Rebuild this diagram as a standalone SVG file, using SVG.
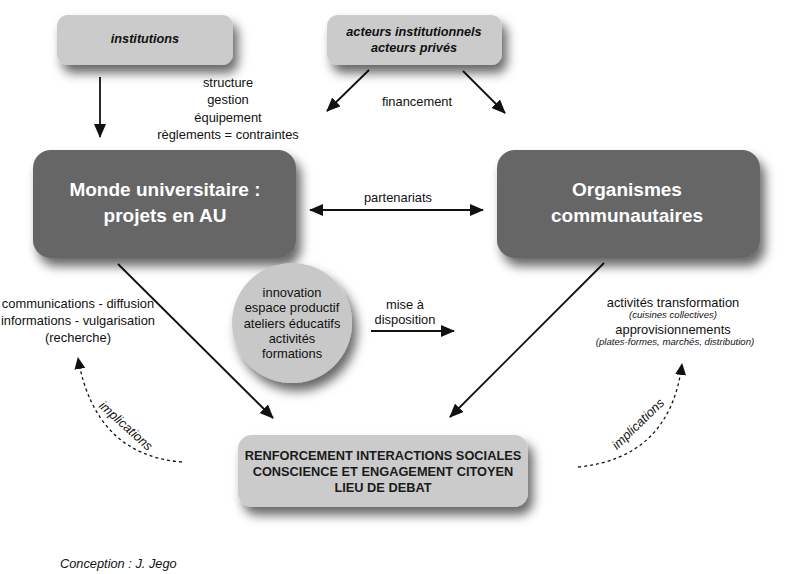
<svg xmlns="http://www.w3.org/2000/svg" width="800" height="574" viewBox="0 0 800 574">
<defs>
<filter id="sh" x="-20%" y="-20%" width="150%" height="160%">
<feDropShadow dx="5" dy="8" stdDeviation="5.5" flood-color="#000" flood-opacity="0.6"/>
</filter>
<marker id="ah" markerUnits="userSpaceOnUse" markerWidth="14" markerHeight="12" refX="13" refY="6" orient="auto-start-reverse">
<path d="M0,0 L14,6 L0,12 Z" fill="#111"/>
</marker>
<marker id="ahs" markerUnits="userSpaceOnUse" markerWidth="12" markerHeight="11" refX="11" refY="5.5" orient="auto">
<path d="M0,0 L12,5.5 L0,11 Z" fill="#111"/>
</marker>
</defs>
<style>
text{font-family:"Liberation Sans",Arial,sans-serif;fill:#111;text-anchor:middle}
.lt{fill:#cbcbcb}
.dk{fill:#666666}
.bw{font-weight:bold;fill:#fff;font-size:19px}
.bi{font-weight:bold;font-style:italic;font-size:12.7px}
.n{font-size:12.9px}
.sm{font-size:9.6px;font-style:italic}
.bb{font-weight:bold;font-size:12.8px;fill:#1a1a1a}
.ln{stroke:#111;stroke-width:1.8;fill:none;marker-end:url(#ah)}
.ds{stroke:#111;stroke-width:1.3;fill:none;stroke-dasharray:3 3;marker-end:url(#ahs)}
.it{font-style:italic;font-size:12.8px}
</style>
<rect width="800" height="574" fill="#fff"/>

<g id="connectors">
<line class="ln" x1="100" y1="77" x2="100" y2="137"/>
<line class="ln" x1="369" y1="70" x2="327" y2="111"/>
<line class="ln" x1="463" y1="71" x2="505" y2="113"/>
<line class="ln" x1="310" y1="210" x2="483" y2="210" style="marker-start:url(#ah)"/>
<line class="ln" x1="371" y1="331" x2="454" y2="331"/>
<line class="ln" x1="118" y1="264" x2="273" y2="418"/>
<line class="ln" x1="604" y1="263" x2="450" y2="417"/>
<path class="ds" d="M182,462 Q95,455 78,358"/>
<path class="ds" d="M578,467 Q670,458 682,364"/>
</g>

<g id="labels">
<text class="n" x="228" y="87">structure</text>
<text class="n" x="228" y="104">gestion</text>
<text class="n" x="228" y="122">équipement</text>
<text class="n" x="228" y="139">règlements = contraintes</text>
<text class="n" x="417" y="106">financement</text>
<text class="n" x="398" y="202">partenariats</text>
<text class="n" x="405" y="309">mise à</text>
<text class="n" x="405" y="324">disposition</text>
<text class="n" x="78" y="308">communications - diffusion</text>
<text class="n" x="78" y="325">informations - vulgarisation</text>
<text class="n" x="78" y="342">(recherche)</text>
<text class="n" x="673" y="307">activités transformation</text>
<text class="sm" x="673" y="318">(cuisines collectives)</text>
<text class="n" x="673" y="334">approvisionnements</text>
<text class="sm" x="675" y="345">(plates-formes, marchés, distribution)</text>
<text class="it" transform="translate(123,429) rotate(42)">implications</text>
<text class="it" transform="translate(641,427) rotate(-44)">implications</text>
<text class="it" x="60" y="568" style="text-anchor:start">Conception : J. Jego</text>
</g>

<g id="institutions">
<rect class="lt" x="57" y="15" width="176" height="50" rx="11" filter="url(#sh)"/>
<text class="bi" x="145" y="43">institutions</text>
</g>

<g id="acteurs">
<rect class="lt" x="327" y="15" width="175" height="50" rx="11" filter="url(#sh)"/>
<text class="bi" x="414" y="36">acteurs institutionnels</text>
<text class="bi" x="414" y="52">acteurs privés</text>
</g>

<g id="monde">
<rect class="dk" x="33" y="150" width="263" height="108" rx="18" filter="url(#sh)"/>
<text class="bw" x="165" y="196">Monde universitaire :</text>
<text class="bw" x="165" y="222">projets en AU</text>
</g>

<g id="organismes">
<rect class="dk" x="497" y="150" width="263" height="108" rx="18" filter="url(#sh)"/>
<text class="bw" x="627" y="196">Organismes</text>
<text class="bw" x="627" y="222">communautaires</text>
</g>

<g id="innovation">
<circle cx="292" cy="323" r="60" fill="#c8c8c8" filter="url(#sh)"/>
<text class="n" x="292" y="297">innovation</text>
<text class="n" x="292" y="312">espace productif</text>
<text class="n" x="292" y="328">ateliers éducatifs</text>
<text class="n" x="292" y="343">activités</text>
<text class="n" x="292" y="358">formations</text>
</g>

<g id="renforcement">
<rect class="lt" x="238" y="435" width="290" height="72" rx="14" filter="url(#sh)"/>
<text class="bb" x="383" y="460">RENFORCEMENT INTERACTIONS SOCIALES</text>
<text class="bb" x="383" y="476">CONSCIENCE ET ENGAGEMENT CITOYEN</text>
<text class="bb" x="383" y="492">LIEU DE DEBAT</text>
</g>
</svg>
